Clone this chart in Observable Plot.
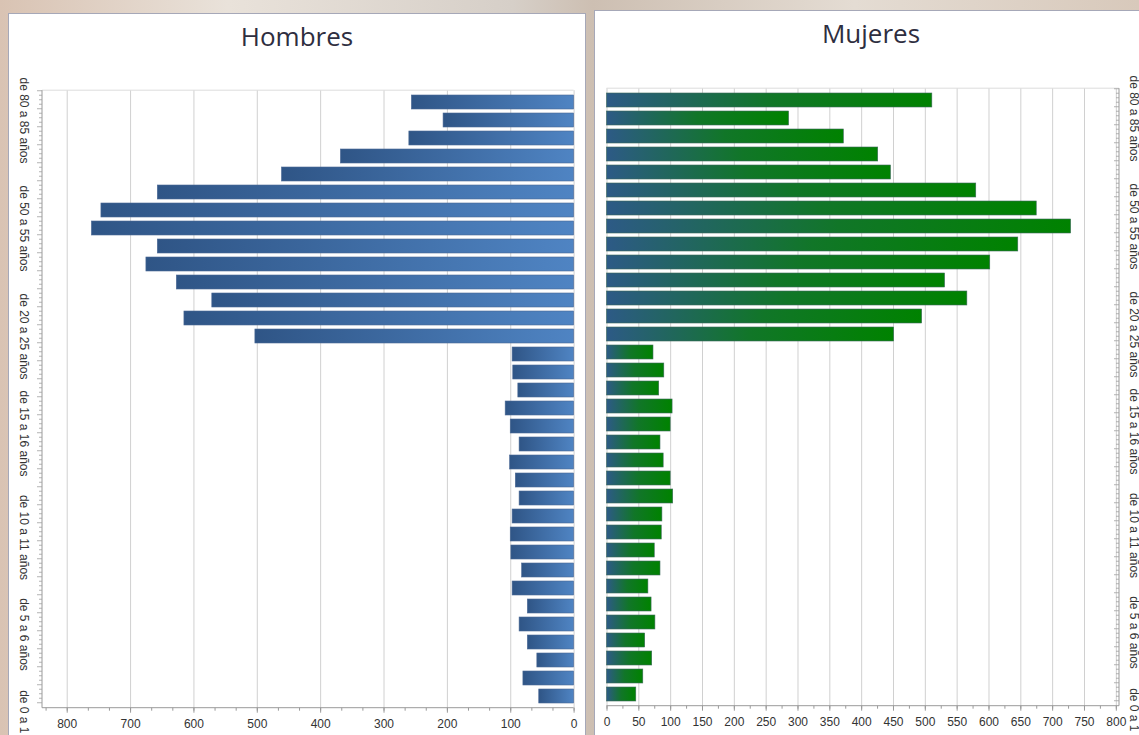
<!DOCTYPE html>
<html>
<head>
<meta charset="utf-8">
<script src="https://cdn.jsdelivr.net/npm/d3@7"></script>
<script src="https://cdn.jsdelivr.net/npm/@observablehq/plot@0.6"></script>
<style>
  html, body { margin: 0; padding: 0; }
  body {
    width: 1139px; height: 735px; overflow: hidden; position: relative;
    background: linear-gradient(90deg, #d9c3b3 0%, #e9e2da 20%, #d6cfc8 45%, #cdbfb2 52%, #e4dcd3 75%, #d8c9bb 100%);
    font-family: "Liberation Sans", Arial, sans-serif;
  }
  .panel { position: absolute; background: #fff; border: 1px solid #a6a8b8; box-sizing: border-box; }
  #panelM { left: 8px; top: 13px; width: 578px; height: 740px; }
  #panelF { left: 594px; top: 10px; width: 560px; height: 740px; }
  .title { position: absolute; font-family: "Open Sans", sans-serif; font-size: 26px; color: #2e2e40; text-align: center; line-height: 30px; }
  #titleM { left: 8px; top: 21px; width: 578px; }
  #titleF { left: 594px; top: 18px; width: 554px; }
  #chartM { position: absolute; left: 0; top: 60px; }
  #chartF { position: absolute; left: 590px; top: 56px; }
  svg { overflow: visible; }
</style>
</head>
<body>
<div class="panel" id="panelM"></div>
<div class="panel" id="panelF"></div>
<div class="title" id="titleM">Hombres</div>
<div class="title" id="titleF">Mujeres</div>
<div id="chartM"></div>
<div id="chartF"></div>
<script>
// Age groups, top to bottom as drawn
const ageGroups = [
  "de 85 a 90 años", "de 80 a 85 años", "de 75 a 80 años", "de 70 a 75 años",
  "de 65 a 70 años", "de 60 a 65 años", "de 55 a 60 años", "de 50 a 55 años",
  "de 45 a 50 años", "de 40 a 45 años", "de 35 a 40 años", "de 30 a 35 años",
  "de 25 a 30 años", "de 20 a 25 años",
  "de 19 a 20 años", "de 18 a 19 años", "de 17 a 18 años", "de 16 a 17 años",
  "de 15 a 16 años", "de 14 a 15 años", "de 13 a 14 años", "de 12 a 13 años",
  "de 11 a 12 años", "de 10 a 11 años", "de 9 a 10 años", "de 8 a 9 años",
  "de 7 a 8 años", "de 6 a 7 años", "de 5 a 6 años", "de 4 a 5 años",
  "de 3 a 4 años", "de 2 a 3 años", "de 1 a 2 años", "de 0 a 1 años"
];
const hombres = [
  256, 206, 260, 368, 461, 657, 746, 761, 657, 675, 627, 571, 615, 503,
  97, 96, 88, 108, 100, 86, 101, 92, 86, 97, 100, 99, 82, 97, 73, 86, 73, 58, 80, 55
];
const mujeres = [
  511, 286, 372, 426, 446, 580, 675, 729, 646, 602, 531, 566, 495, 451,
  73, 90, 82, 103, 100, 84, 89, 100, 104, 87, 86, 75, 84, 65, 70, 76, 60, 71, 57, 46
];
// Category labels shown on the vertical axes
const shownLabels = ["de 80 a 85 años", "de 50 a 55 años", "de 20 a 25 años", "de 15 a 16 años", "de 10 a 11 años", "de 5 a 6 años", "de 0 a 1 años"];
const xTicksM = [800, 700, 600, 500, 400, 300, 200, 100, 0];
const xTicksF = [0, 50, 100, 150, 200, 250, 300, 350, 400, 450, 500, 550, 600, 650, 700, 750, 800];

// layout tweaks (not data)
const labelShift = [0, 0, 0, 7, 21, 28, 30];

const dataM = ageGroups.map((a, i) => ({age: a, value: hombres[i]}));
const dataF = ageGroups.map((a, i) => ({age: a, value: mujeres[i]}));

const font = "Liberation Sans, Arial, sans-serif";

function labelMarks(anchor, dx) {
  return shownLabels.map((lab, i) => Plot.text([lab], {
    y: d => d, text: d => d, frameAnchor: anchor, dx, dy: labelShift[i],
    rotate: 90, fontSize: 12, fill: "#333", textAnchor: "middle"
  }));
}

function addGradient(svg, id, stops) {
  const defs = d3.select(svg).insert("defs", ":first-child");
  const g = defs.append("linearGradient").attr("id", id)
    .attr("x1", 0).attr("x2", 1).attr("y1", 0).attr("y2", 0);
  stops.forEach(([o, c]) => g.append("stop").attr("offset", o).attr("stop-color", c));
}

function decorate(chart, side) {
  const svg = d3.select(chart);
  const x = chart.scale("x"), y = chart.scale("y");
  const [xa, xb] = x.range;
  const x0 = Math.min(xa, xb), x1 = Math.max(xa, xb);
  const [y0, y1] = y.range;
  const g = svg.append("g").attr("class", "deco");
  g.append("line").attr("x1", x0).attr("x2", x1).attr("y1", y0).attr("y2", y0).attr("stroke", "#dcdcdc");
  g.append("line").attr("x1", x0).attr("x2", x1).attr("y1", y1).attr("y2", y1).attr("stroke", "#9a9a9a");
  const ax = side === "left" ? x0 : x1;
  g.append("line").attr("x1", ax).attr("x2", ax).attr("y1", y0).attr("y2", y1).attr("stroke", "#9a9a9a");
  // ruler ticks along the category axis
  const step = y.step;
  const start = y0 + (y.paddingOuter || 0) * step - (y.paddingInner || 0) * step / 2;
  const n = ageGroups.length;
  for (let k = 0; k <= n * 4; k++) {
    const yy = start + k * step / 4;
    if (yy < y0 - 0.5 || yy > y1 + 0.5) continue;
    const len = k % 4 === 0 ? 5 : 3;
    g.append("line").attr("x1", ax - len).attr("x2", ax).attr("y1", yy).attr("y2", yy)
      .attr("stroke", "#a0a0a0").attr("stroke-width", 0.8);
  }
}

const chartM = Plot.plot({
  width: 590, height: 675,
  marginLeft: 42, marginRight: 16.4, marginTop: 30.2, marginBottom: 27.3,
  style: {fontFamily: font, fontSize: "12px", color: "#333", background: "transparent", overflow: "visible"},
  x: {domain: [839, 0], axis: null, label: null},
  y: {domain: ageGroups, paddingInner: 0.24, paddingOuter: 0.15, axis: null, label: null},
  marks: [
    Plot.gridX({ticks: xTicksM, stroke: "#d0d0d0", strokeOpacity: 1}),
    Plot.axisX({ticks: d3.range(0, 839, 100 / 3), tickSize: 3, text: null, label: null, stroke: "#9a9a9a"}),
    Plot.axisX({ticks: xTicksM, tickSize: 5, tickPadding: 6, label: null, stroke: "#9a9a9a", fill: "#333", fontSize: 12}),
    Plot.barX(dataM, {x: "value", y: "age", fill: "url(#gradM)", stroke: "#4a6894", strokeWidth: 0.6}),
    ...labelMarks("left", -19)
  ]
});
addGradient(chartM, "gradM", [["0%", "#2f5586"], ["100%", "#4f84c3"]]);
decorate(chartM, "left");
document.getElementById("chartM").append(chartM);

const chartF = Plot.plot({
  width: 549, height: 679,
  marginLeft: 16.5, marginRight: 20, marginTop: 32.2, marginBottom: 29.3,
  style: {fontFamily: font, fontSize: "12px", color: "#333", background: "transparent", overflow: "visible"},
  x: {domain: [0, 805], axis: null, label: null},
  y: {domain: ageGroups, paddingInner: 0.24, paddingOuter: 0.15, axis: null, label: null},
  marks: [
    Plot.gridX({ticks: xTicksF, stroke: "#d0d0d0", strokeOpacity: 1}),
    Plot.axisX({ticks: d3.range(0, 805, 25), tickSize: 3, text: null, label: null, stroke: "#9a9a9a"}),
    Plot.axisX({ticks: xTicksF, tickSize: 5, tickPadding: 6, label: null, stroke: "#9a9a9a", fill: "#333", fontSize: 12}),
    Plot.barX(dataF, {x: "value", y: "age", fill: "url(#gradF)", stroke: "#3c6a5a", strokeWidth: 0.6}),
    ...labelMarks("right", 14)
  ]
});
addGradient(chartF, "gradF", [["0%", "#2d5a86"], ["50%", "#117628"], ["100%", "#008200"]]);
decorate(chartF, "right");
document.getElementById("chartF").append(chartF);
</script>
</body>
</html>
